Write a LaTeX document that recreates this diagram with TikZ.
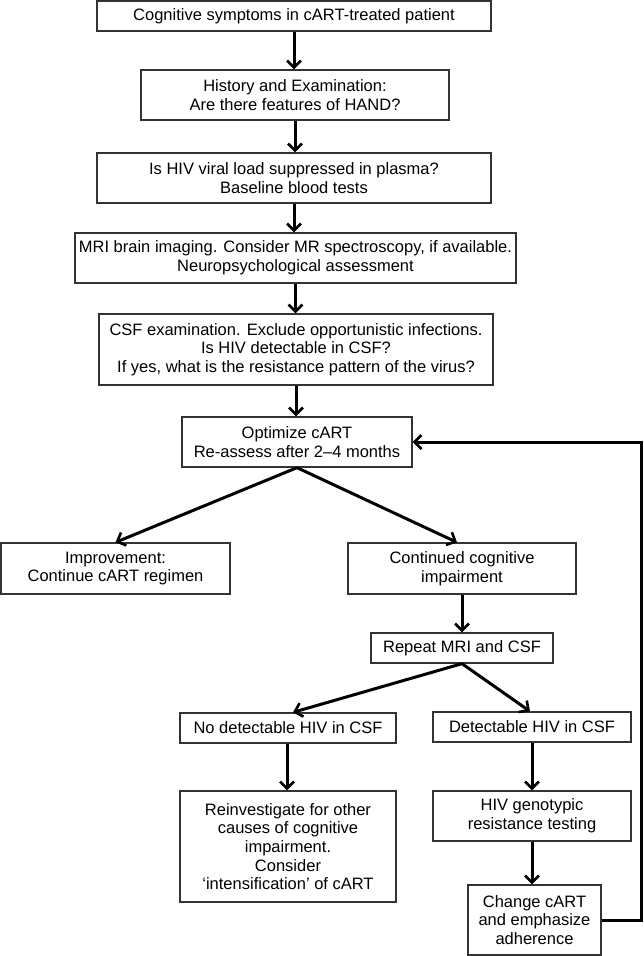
\documentclass[tikz,border=0pt]{standalone}
\usepackage{fontspec}
\setmainfont{Liberation Sans}
\usetikzlibrary{arrows.meta,calc}
\tikzset{
  box/.style={draw=black!80, line width=1.3pt, align=center, inner sep=0pt,
    font=\fontsize{16.5}{18.6}\selectfont},
  tip/.tip={Straight Barb[length=7pt,width=14pt,line width=2.6pt]},
  arr/.style={line width=3pt, -tip}
}
\newcommand{\bx}[6]{% name, x1, y1, x2, y2, text
  \node[box, minimum width=#4-#2, minimum height=#5-#3] (#1) at ({(#2+#4)/2},{(#3+#5)/2}) {#6};}
\begin{document}
\begin{tikzpicture}[x=1pt,y=-1pt]
\useasboundingbox (0,0) rectangle (643,956);
\bx{b1}{97}{1}{491}{31}{Cognitive symptoms in cART-treated patient}
\bx{b2}{141}{70}{449}{120}{History and Examination:\\Are there features of HAND?}
\bx{b3}{97}{153}{491}{203}{Is HIV viral load suppressed in plasma?\\Baseline blood tests}
\bx{b4}{75}{233}{516}{283}{MRI brain imaging. Consider MR spectroscopy, if available.\\Neuropsychological assessment}
\bx{b5}{99}{314}{493}{385}{CSF examination. Exclude opportunistic infections.\\Is HIV detectable in CSF?\\If yes, what is the resistance pattern of the virus?}
\bx{b6}{182}{417}{412}{467}{Optimize cART\\Re-assess after 2--4 months}
\bx{imp}{1}{543}{230}{594}{Improvement:\\Continue cART regimen}
\bx{cont}{348}{543}{576}{594}{Continued cognitive\\impairment}
\bx{rep}{371}{633}{553}{663}{Repeat MRI and CSF}
\bx{nod}{180}{713}{396}{743}{No detectable HIV in CSF}
\bx{det}{433}{712}{631}{742}{Detectable HIV in CSF}
\bx{rei}{180}{791}{396}{902}{Reinvestigate for other\\causes of cognitive\\impairment.\\Consider\\`intensification' of cART}
\bx{gen}{433}{791}{631}{841}{HIV genotypic\\resistance testing}
\bx{chg}{468}{885}{601}{955}{Change cART\\and emphasize\\adherence}
% arrows
\draw[arr] (b1.south) -- (b2.north -| b1.south);
\draw[arr] (b2.south) -- (b3.north -| b2.south);
\draw[arr] (b3.south) -- (b4.north -| b3.south);
\draw[arr] (b4.south) -- (b5.north -| b4.south);
\draw[arr] (b5.south) -- (b6.north -| b5.south);
\draw[arr] (b6.south) -- (imp.north);
\draw[arr] (b6.south) -- ([xshift=-5pt]cont.north);
\draw[arr] (cont.south) -- (rep.north -| cont.south);
\draw[arr] (rep.south) -- ([xshift=5pt]nod.north);
\draw[arr] (rep.south) -- ([xshift=-2pt]det.north);
\draw[arr] ([xshift=-1pt]nod.south) -- ([xshift=-1pt]rei.north);
\draw[arr] (det.south) -- (gen.north);
\draw[arr] (gen.south) -- (chg.north -| gen.south);
\coordinate (fb) at (641,0);
\draw[arr] (chg.east) -- (chg.east -| fb) -- (b6.east -| fb) -- (b6.east);
\end{tikzpicture}
\end{document}
